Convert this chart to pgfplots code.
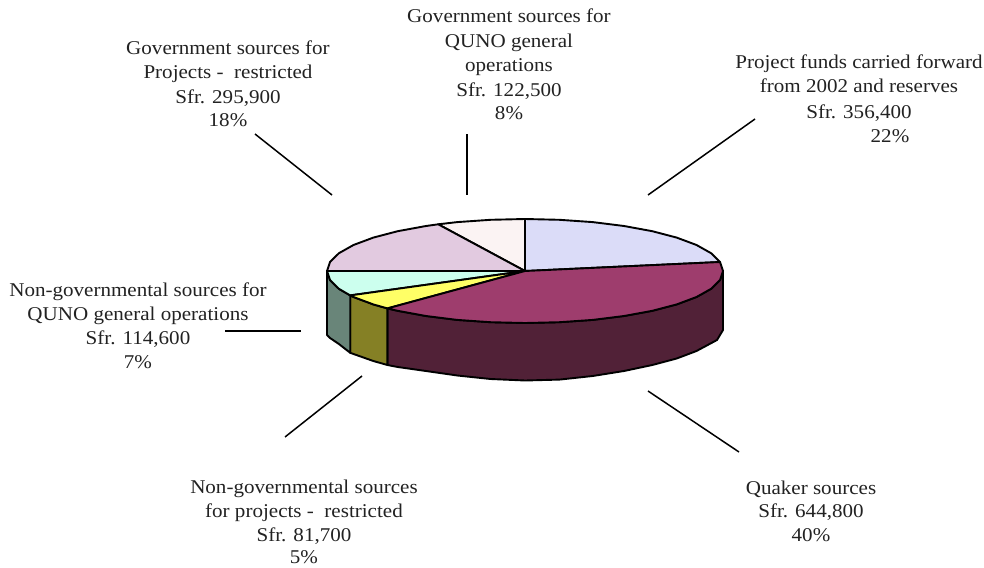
\documentclass[border=0pt]{standalone}
\usepackage{fontspec}
\setmainfont[FakeStretch=1.08]{Liberation Serif}
\usepackage{pgfplots}
\pgfplotsset{compat=1.18}
\definecolor{cblue}{HTML}{DBDCF8}
\definecolor{cwhite}{HTML}{FBF3F3}
\definecolor{cpink}{HTML}{E2CAE0}
\definecolor{ccyan}{HTML}{CCFFEE}
\definecolor{cyellow}{HTML}{FFFF66}
\definecolor{cmag}{HTML}{9E3D6D}
\definecolor{cdark}{HTML}{512137}
\definecolor{colive}{HTML}{858025}
\definecolor{cteal}{HTML}{698579}
\definecolor{ctext}{HTML}{222222}
\newcommand{\lb}[3]{\node[anchor=base,inner sep=0pt,text=ctext,font=\fontsize{19.5}{22}\selectfont] at (axis cs:#1,#2) {#3};}
\begin{document}
\begin{tikzpicture}
\useasboundingbox (0,0) rectangle (984pt,567pt);
\begin{axis}[
  width=984pt,height=567pt,scale only axis,at={(0,0)},anchor=south west,
  xmin=0,xmax=984,ymin=0,ymax=567,y dir=reverse,
  hide axis,clip=false,
  slice/.style={draw=black,line width=1.9pt,line join=round,mark=none},
  leader/.style={draw=black,line width=1.5pt,mark=none}
]
% sides
\addplot[slice,fill=cdark] coordinates {(387.4,308.4)(397.7,310.8)(426,316)(457.3,319.9)(490.6,322.2)(525,323)(559.4,322.2)(592.7,319.9)(624,316)(652.3,310.8)(676.7,304.4)(696.5,297)(711.1,288.8)(720,280)(723,271)(723,330)(717,340)(696.5,351)(676.7,358.5)(652.3,365)(624,371)(592.7,376)(559.4,379.6)(525,380.5)(490.6,379)(457.3,375.5)(426,371)(397.7,367)(387.4,365)} --cycle;
\addplot[slice,fill=colive] coordinates {(350.2,295.4)(353.5,297)(373.3,304.4)(387.4,308.4)(387.4,365)(373.3,361)(353.5,354)(350.2,352.8)} --cycle;
\addplot[slice,fill=cteal] coordinates {(327,271)(330,280)(338.9,288.8)(350.2,295.4)(350.2,352.8)(338.9,344)(330,338)(327,335)} --cycle;
% top
\addplot[slice,fill=cblue] coordinates {(525,271)(525,219)(559.4,219.8)(592.7,222.1)(624,226)(652.3,231.2)(676.7,237.6)(696.5,245)(711.1,253.2)(720,262)} --cycle;
\addplot[slice,fill=cwhite] coordinates {(525,271)(438.2,224.3)(457.3,222.1)(490.6,219.8)(525,219)} --cycle;
\addplot[slice,fill=cpink] coordinates {(525,271)(327,271)(330,262)(338.9,253.2)(353.5,245)(373.3,237.6)(397.7,231.2)(426,226)(438.2,224.3)} --cycle;
\addplot[slice,fill=ccyan] coordinates {(525,271)(350.2,295.4)(338.9,288.8)(330,280)(327,271)} --cycle;
\addplot[slice,fill=cyellow] coordinates {(525,271)(387.4,308.4)(373.3,304.4)(353.5,297)(350.2,295.4)} --cycle;
\addplot[slice,fill=cmag] coordinates {(525,271)(720,262)(723,271)(720,280)(711.1,288.8)(696.5,297)(676.7,304.4)(652.3,310.8)(624,316)(592.7,319.9)(559.4,322.2)(525,323)(490.6,322.2)(457.3,319.9)(426,316)(397.7,310.8)(387.4,308.4)} --cycle;
% leaders
\addplot[leader] coordinates {(255,134)(332,195)};
\addplot[leader] coordinates {(467,134)(467,195)};
\addplot[leader] coordinates {(755,119)(648,195)};
\addplot[leader] coordinates {(648,391)(739,452)};
\addplot[leader] coordinates {(362,376)(285,437)};
\addplot[leader] coordinates {(225,331)(301,331)};
% labels
\lb{228}{55}{Government sources for}
\lb{228}{79}{Projects -\ \ restricted}
\lb{228}{103}{Sfr. 295,900}
\lb{228}{127}{18\%}
\lb{509}{23}{Government sources for}
\lb{509}{48}{QUNO general}
\lb{509}{72}{operations}
\lb{509}{96}{Sfr. 122,500}
\lb{509}{120}{8\%}
\lb{859}{69}{Project funds carried forward}
\lb{859}{93}{from 2002 and reserves}
\lb{859}{118}{Sfr. 356,400}
\lb{890}{142}{22\%}
\lb{138}{296}{Non-governmental sources for}
\lb{138}{320}{QUNO general operations}
\lb{138}{344}{Sfr. 114,600}
\lb{138}{368}{7\%}
\lb{304}{493}{Non-governmental sources}
\lb{304}{517}{for projects -\ \ restricted}
\lb{304}{541}{Sfr. 81,700}
\lb{304}{563}{5\%}
\lb{811}{494}{Quaker sources}
\lb{811}{517}{Sfr. 644,800}
\lb{811}{541}{40\%}
\end{axis}
\end{tikzpicture}
\end{document}
